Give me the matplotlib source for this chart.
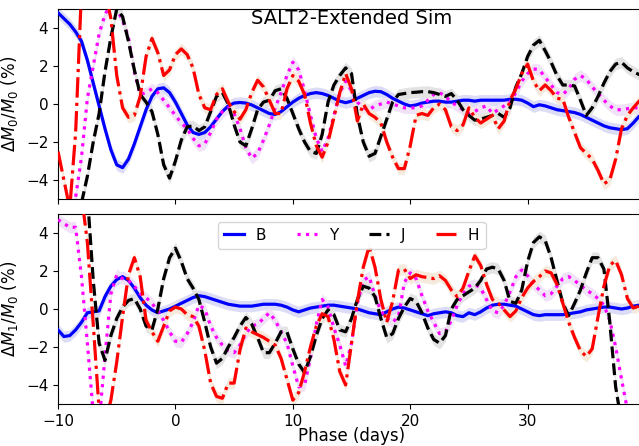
import numpy as np
import matplotlib
matplotlib.use('Agg')
import matplotlib.pyplot as plt

# phase grid (days), half-day steps
phase = np.arange(-10, 40.5, 0.5)

# top panel: Delta M0 / M0 (%)
top_B = [4.8, 4.5, 4.2, 3.8, 3.3, 2.3, 1.1, -0.1, -1.3, -2.4, -3.2, -3.35, -2.9, -2.1, -1.2, -0.3, 0.4, 0.8, 0.85, 0.6,
         0.1, -0.5, -1.1, -1.5, -1.6, -1.5, -1.2, -0.8, -0.4, -0.1, 0.05, 0.08, 0.05, -0.05, -0.2, -0.35, -0.5, -0.55, -0.4, -0.15,
         0.1, 0.3, 0.45, 0.55, 0.6, 0.55, 0.45, 0.3, 0.15, 0.07, 0.15, 0.3, 0.45, 0.6, 0.67, 0.65, 0.5, 0.3, 0.15, 0.0,
         -0.1, -0.05, 0.05, 0.1, 0.15, 0.15, 0.1, 0.1, 0.15, 0.2, 0.2, 0.15, 0.2, 0.2, 0.2, 0.2, 0.2, 0.25, 0.25, 0.2,
         0.05, -0.14, -0.04, -0.1, -0.2, -0.3, -0.35, -0.4, -0.45, -0.55, -0.7, -0.85, -1.0, -1.15, -1.25, -1.3, -1.35, -1.3, -1.0, -0.65,
         -0.5]
top_Y = [-6, -6, -6, -4.9, -2.8, 0.3, 2.0, 3.7, 4.7, 5.3, 5.0, 4.4, 3.5, 1.7, 0.5, 0.6, 0.8, 0.6, 0.2, -0.2,
         -0.6, -1.0, -1.3, -1.8, -2.2, -2.1, -1.5, -0.8, -0.4, -0.2, -0.5, -1.3, -2.3, -2.85, -2.6, -1.9, -1.1, -0.2, 0.6, 1.5,
         2.2, 1.8, 0.7, -0.6, -1.8, -2.5, -1.8, -0.6, 0.6, 1.2, 0.7, 0.1, -0.2, -0.3, -0.1, 0.0, 0.1, 0.0, -0.1, -0.2,
         -0.2, -0.2, -0.1, 0.2, 0.5, 0.6, 0.4, 0.1, -0.1, -0.3, -0.5, -0.4, -0.2, -0.1, -0.5, -0.3, -0.1, 0.1, 0.6, 1.2,
         1.6, 1.85, 1.8, 1.4, 1.0, 0.6, 0.5, 0.8, 1.3, 1.5, 1.3, 0.9, 0.55, 0.2, -0.1, -0.3, -0.3, -0.25, -0.2, -0.2,
         -0.1]
top_J = [-6, -6, -6, -6, -5.2, -3.8, -2.0, -0.5, 1.7, 3.5, 5.0, 4.6, 3.3, 1.8, 0.5, 0.1, -0.4, -1.6, -3.2, -3.9,
         -3.0, -1.9, -1.2, -1.15, -1.4, -1.2, -0.4, 0.4, 0.6, 0.0, -1.1, -2.0, -2.2, -1.3, -0.3, 0.1, 0.2, 0.7, 0.8, 0.3,
         -0.5, -1.3, -2.0, -2.5, -2.6, -1.6, 0.1, 1.0, 1.5, 1.9, 1.6, -0.6, -2.0, -2.75, -2.6, -1.7, -0.8, 0.1, 0.5, 0.55,
         0.6, 0.62, 0.65, 0.65, 0.6, 0.5, 0.4, 0.55, 0.2, -0.3, -0.6, -0.85, -0.8, -0.7, -0.6, -0.5, -0.7, -0.2, 0.9, 1.6,
         2.5, 3.1, 3.35, 2.8, 2.2, 1.5, 1.0, 1.0, 0.95, 0.2, -0.6, -0.2, 0.4, 1.1, 1.7, 2.1, 2.2, 1.9, 1.7, 1.55,
         1.5]
top_H = [-2.5, -4.0, -5.5, -1.5, 6, 6, 6, 6, 6, 4.5, 1.5, -0.2, -0.7, -0.6, 0.4, 2.5, 3.45, 2.7, 1.5, 1.8,
         2.6, 2.9, 2.6, 1.9, 0.5, -0.2, -0.3, 0.5, 0.8, 0.1, -0.4, -0.8, -0.3, 0.6, 1.25, 0.9, 0.2, -0.5, -0.5, 0.8,
         1.5, 1.2, 0.5, -1.0, -2.2, -2.8, -2.0, -0.7, 0.6, 1.6, 0.8, -0.9, 0.0, -0.5, -0.7, -1.0, -2.0, -2.8, -3.4, -3.4,
         -2.2, -0.6, -0.5, -0.6, -0.2, 0.0, -0.3, -1.2, -1.4, -1.1, -0.2, -0.7, -1.0, -0.8, -0.6, -1.3, -0.9, 0.2, 0.8, 1.6,
         2.1, 1.2, 0.7, 1.0, 0.7, 0.3, 0.25, -0.7, -1.5, -2.3, -2.6, -2.9, -3.5, -4.2, -4.0, -2.9, -1.3, -0.6, -0.2, 0.15,
         0.3]

# bottom panel: Delta M1 / M0 (%)
bot_B = [-1.1, -1.45, -1.4, -1.1, -0.7, -0.2, -0.15, -0.1, 0.65, 1.2, 1.55, 1.7, 1.5, 1.1, 0.6, 0.2, -0.05, -0.2, -0.1, 0.0,
         0.15, 0.3, 0.45, 0.6, 0.7, 0.65, 0.55, 0.45, 0.35, 0.25, 0.2, 0.15, 0.15, 0.15, 0.2, 0.25, 0.25, 0.25, 0.2, 0.1,
         -0.05, -0.15, -0.05, 0.05, 0.1, 0.15, 0.2, 0.2, 0.15, 0.1, 0.05, 0.0, -0.1, -0.2, -0.25, -0.3, -0.15, 0.0, 0.1, 0.05,
         -0.05, -0.15, -0.25, -0.35, -0.25, -0.2, -0.15, -0.2, -0.35, -0.4, -0.2, -0.3, -0.15, 0.05, 0.2, 0.25, 0.25, 0.2, 0.15, 0.0,
         -0.15, -0.3, -0.35, -0.3, -0.3, -0.3, -0.3, -0.25, -0.2, -0.15, -0.05, 0.0, 0.05, 0.1, 0.1, 0.05, 0.0, 0.05, 0.15, 0.2,
         0.25]
bot_Y = [4.7, 4.5, 4.3, 4.3, 1.7, -1.8, -5.5, -6, -2.5, 0.8, 1.8, 1.6, 1.5, 1.2, 0.8, 0.6, 0.3, -0.1, -0.6, -1.2,
         -1.7, -1.75, -1.3, -0.7, 0.2, 0.0, -0.9, -1.5, -1.9, -2.2, -2.3, -1.9, -1.3, -0.9, -0.8, -0.5, -0.2, -0.6, -1.2, -1.8,
         -3.0, -4.1, -4.0, -2.6, -0.8, 0.5, 0.1, -1.0, -1.9, -3.0, -1.8, 0.3, 1.5, 1.7, 0.7, -0.1, -0.5, -0.7, -0.4, 1.4,
         1.9, 1.6, 0.7, -0.1, -0.7, -1.3, -1.2, -0.6, 0.2, 0.8, 1.2, 1.3, 1.1, 0.5, -0.1, -0.2, 0.2, 0.9, 1.7, 2.05,
         1.75, 1.3, 1.0, 0.7, 0.8, 1.2, 1.6, 1.7, 1.5, 1.25, 1.0, 0.8, 0.55, 0.2, -0.6, -2.0, -3.7, -5.3, -6, -6,
         -6]
bot_J = [6, 6, 6, 6, 6, 6, 1.5, -1.8, -2.7, -1.4, -0.5, 0.1, 0.45, 0.55, 0.0, -0.9, -1.1, 0.0, 1.6, 2.7,
         3.2, 2.5, 1.6, 1.1, 0.5, -0.7, -2.0, -2.85, -2.6, -2.0, -1.5, -0.9, -0.45, -0.8, -1.5, -2.3, -2.3, -1.8, -1.2, -1.2,
         -2.1, -2.9, -3.35, -2.5, -1.4, -0.5, -0.05, -0.3, -1.1, -1.2, -0.5, 0.5, 1.2, 1.1, 0.65, -0.5, -1.5, -1.3, -0.5, 0.1,
         0.55, 0.4, -0.2, -1.0, -1.6, -1.8, -1.4, 0.0, 0.5, 0.7, 0.9, 1.1, 1.5, 2.1, 2.2, 2.1, 1.5, 0.4, 0.3, 1.0,
         2.5, 3.5, 3.8, 3.6, 2.7, 1.5, 0.3, -0.35, 0.3, 1.0, 1.9, 2.7, 2.7, 2.1, -0.7, -4.1, -6, -6, -6, -6,
         -6]
bot_H = [6, 6, 6, 6, 6, 3.5, -0.8, -5.3, -6, -4.8, -2.8, -0.4, 1.8, 2.7, 1.7, -0.6, -1.2, -1.7, -0.9, -0.1,
         0.1, 0.0, -0.3, -0.4, -0.9, -2.2, -3.9, -4.6, -4.7, -3.9, -3.9, -2.15, -1.0, -1.2, -1.35, -1.5, -1.7, -1.9, -2.6, -3.7,
         -4.8, -4.4, -3.3, -2.0, -0.9, -0.25, -0.4, -1.6, -3.3, -4.0, -1.8, 0.4, 2.2, 3.3, 2.2, 0.5, -0.7, 0.4, 2.05, 2.1,
         1.6, 1.8, 1.7, 1.65, 1.6, 1.75, 1.5, 1.0, 0.65, 1.1, 2.0, 2.8, 2.3, 1.3, 0.5, 0.3, -0.05, -0.4, -0.1, 0.6,
         1.1, 1.45, 1.7, 2.0, 1.9, 1.3, 0.3, -0.7, -1.5, -2.2, -2.5, -2.1, -0.4, 1.2, 2.3, 2.55, 1.8, 0.55, 0.05, 0.15,
         0.2]

bands = ['B', 'Y', 'J', 'H']
line_color = {'B': 'blue', 'Y': 'magenta', 'J': 'black', 'H': 'red'}
line_style = {'B': '-', 'Y': ':', 'J': '--', 'H': '-.'}
band_color = {'B': '#dcdcf6', 'Y': '#f0e2f7', 'J': '#e3e3e3', 'H': '#f5eadc'}

top = {'B': top_B, 'Y': top_Y, 'J': top_J, 'H': top_H}
bot = {'B': bot_B, 'Y': bot_Y, 'J': bot_J, 'H': bot_H}

fig = plt.figure(figsize=(6.39, 4.46), dpi=100)
W = 0.9186
ax1 = fig.add_axes([0.0908, 0.5538, W, 0.426])
ax2 = fig.add_axes([0.0908, 0.0942, W, 0.426])

for ax, data in [(ax1, top), (ax2, bot)]:
    for b in bands:
        y = np.array(data[b])
        ax.fill_between(phase, y - 0.3, y + 0.3, color=band_color[b], lw=0, zorder=1)
    for b in bands:
        ax.plot(phase, data[b], color=line_color[b], ls=line_style[b], lw=2.3, label=b, zorder=3)
    ax.set_xlim(-10, 40)
    ax.set_ylim(-5, 5)
    ax.set_yticks([-4, -2, 0, 2, 4])
    ax.set_xticks([-10, 0, 10, 20, 30])
    ax.tick_params(labelsize=11)

ax1.tick_params(labelbottom=False)
ax1.set_ylabel(r'$\Delta M_0/M_0$ (%)', fontsize=12)
ax2.set_ylabel(r'$\Delta M_1/M_0$ (%)', fontsize=12)
ax2.set_xlabel('Phase (days)', fontsize=12, labelpad=-1)
ax1.text(0.5, 0.95, 'SALT2-Extended Sim', transform=ax1.transAxes,
         ha='center', va='center', fontsize=14)
ax2.legend(loc='upper center', ncol=4, fontsize=11, handlelength=1.3)

fig.savefig('out.png', dpi=100)
